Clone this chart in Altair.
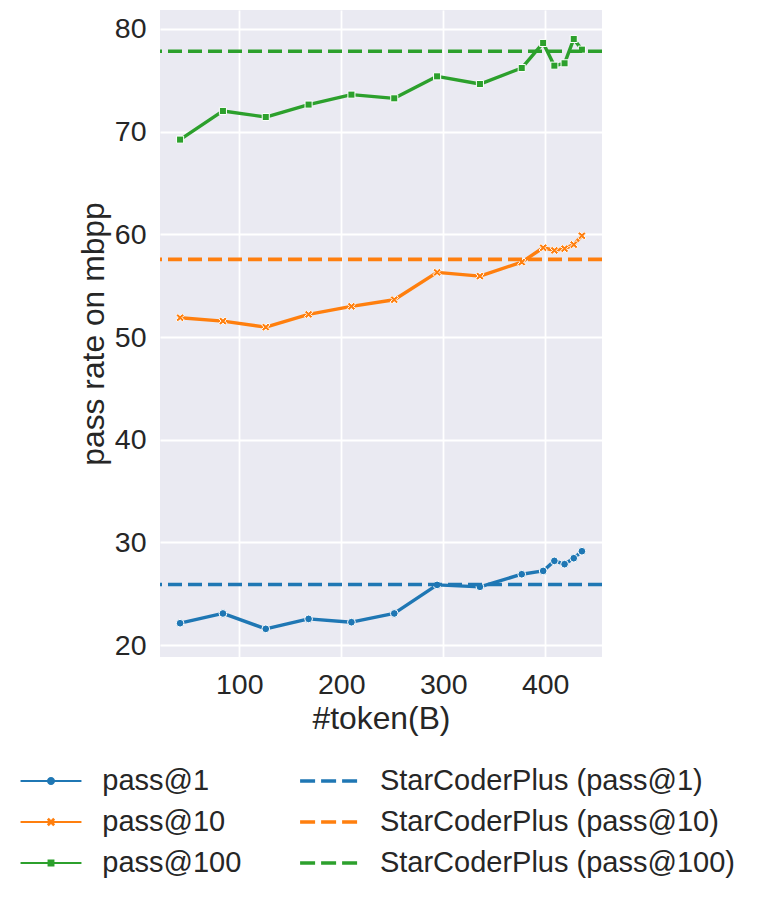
import altair as alt
import pandas as pd

# ---- data ----
tokens = [42, 84, 126, 168, 210, 252, 294, 336, 377, 398, 409, 419, 428, 436]
pass1 = [22.14, 23.09, 21.59, 22.56, 22.24, 23.09, 25.87, 25.68, 26.91, 27.23, 28.21, 27.89, 28.47, 29.15]
pass10 = [51.89, 51.56, 50.97, 52.21, 52.99, 53.64, 56.30, 55.94, 57.30, 58.70, 58.44, 58.61, 59.00, 59.87]
pass100 = [69.23, 72.02, 71.43, 72.64, 73.61, 73.25, 75.39, 74.64, 76.20, 78.64, 76.43, 76.66, 79.03, 77.99]
series_names = ["pass@1", "pass@10", "pass@100"]
baseline_names = ["StarCoderPlus (pass@1)", "StarCoderPlus (pass@10)", "StarCoderPlus (pass@100)"]
baseline_values = [25.91, 57.57, 77.83]
x_ticks = [100, 200, 300, 400]
y_ticks = [20, 30, 40, 50, 60, 70, 80]

# ---- styling ----
colors = ["#1f77b4", "#ff7f0e", "#2ca02c"]
FONT = "Liberation Sans"
TXT = "#262626"
X_PATH = ("M0.495,-0.919L0.919,-0.495L0.424,0L0.919,0.495L0.495,0.919L0,0.424"
          "L-0.495,0.919L-0.919,0.495L-0.424,0L-0.919,-0.495L-0.495,-0.919L0,-0.424Z")
marker_shapes = ["circle", X_PATH, "square"]
marker_sizes = [60, 80, 50]

LINE = "M-2.03,-0.06H2.03V0.06H-2.03Z"
CIRC = "M0.27,0A0.27,0.27 0 1,1 -0.27,0A0.27,0.27 0 1,1 0.27,0Z"
XS = ("M0.149,-0.276L0.276,-0.149L0.127,0L0.276,0.149L0.149,0.276L0,0.127"
      "L-0.149,0.276L-0.276,0.149L-0.127,0L-0.276,-0.149L-0.149,-0.276L0,-0.127Z")
SQ = "M-0.23,-0.23H0.23V0.23H-0.23Z"
DASH = "M-1.9,-0.12H-0.9V0.12H-1.9Z M-0.5,-0.12H0.5V0.12H-0.5Z M0.9,-0.12H1.9V0.12H0.9Z"
legend_marker_paths = [LINE + " " + CIRC, LINE + " " + XS, LINE + " " + SQ]

# ---- tables ----
rows = []
for name, vals in zip(series_names, [pass1, pass10, pass100]):
    for t, v in zip(tokens, vals):
        rows.append({"tokens": t, "rate": v, "series": name})
df = pd.DataFrame(rows)
base_df = pd.DataFrame({"series": series_names, "label": baseline_names, "rate": baseline_values})

legend_labels = series_names + baseline_names
legend_colors = colors + colors
legend_paths = legend_marker_paths + [DASH, DASH, DASH]
legend_df = pd.DataFrame({"label": legend_labels})

color_scale = alt.Scale(domain=series_names, range=colors)
x_enc = alt.X("tokens:Q",
              scale=alt.Scale(domain=[22.3, 455.7], nice=False, zero=False),
              axis=alt.Axis(values=x_ticks, title="#token(B)", labelPadding=13, titlePadding=5))
y_enc = alt.Y("rate:Q",
              scale=alt.Scale(domain=[18.85, 81.85], nice=False, zero=False),
              axis=alt.Axis(values=y_ticks, title="pass rate on mbpp", labelPadding=14, titlePadding=4))

layers = []
for name, col, shp, sz in zip(series_names, colors, marker_shapes, marker_sizes):
    sub = alt.Chart(df).transform_filter(alt.datum.series == name)
    layers.append(sub.mark_line(strokeWidth=3.4, strokeJoin="round", color=col).encode(x=x_enc, y=y_enc))
    layers.append(sub.mark_point(filled=True, fill=col, stroke="white", strokeWidth=1,
                                 size=sz, shape=shp, opacity=1).encode(x=x_enc, y=y_enc))

rules = alt.Chart(base_df).mark_rule(strokeWidth=3.6, strokeDash=[14, 6]).encode(
    y=alt.Y("rate:Q"),
    color=alt.Color("series:N", scale=color_scale, legend=None),
)
layers.append(rules)

legend_def = alt.Legend(
    title=None, orient="none", legendX=-139.5, legendY=756, columns=2,
    symbolSize=900, symbolOffset=15.5, labelOffset=36.3, symbolStrokeWidth=0,
    symbolOpacity=1, labelFont=FONT, labelFontSize=29, labelColor=TXT, labelLimit=600,
    rowPadding=11, columnPadding=56.6,
)
dummy = alt.Chart(legend_df).mark_point(filled=True, opacity=0).encode(
    fill=alt.Fill("label:N", scale=alt.Scale(domain=legend_labels, range=legend_colors), legend=legend_def),
    shape=alt.Shape("label:N", scale=alt.Scale(domain=legend_labels, range=legend_paths), legend=legend_def),
)
layers.append(dummy)

chart = alt.layer(*layers).properties(
    width=442, height=647,
    padding={"left": 12, "top": 2, "right": 5, "bottom": 5},
    view=alt.ViewBackground(fill="#EAEAF2", strokeWidth=0),
).configure_axis(
    domain=False, ticks=False, grid=True, gridColor="white", gridWidth=1.8,
    labelFont=FONT, labelFontSize=28.5, labelColor=TXT,
    titleFont=FONT, titleFontSize=31.8, titleFontWeight="normal", titleColor=TXT,
)

chart.save("out.html", embed_options={"renderer": "svg", "actions": False})
